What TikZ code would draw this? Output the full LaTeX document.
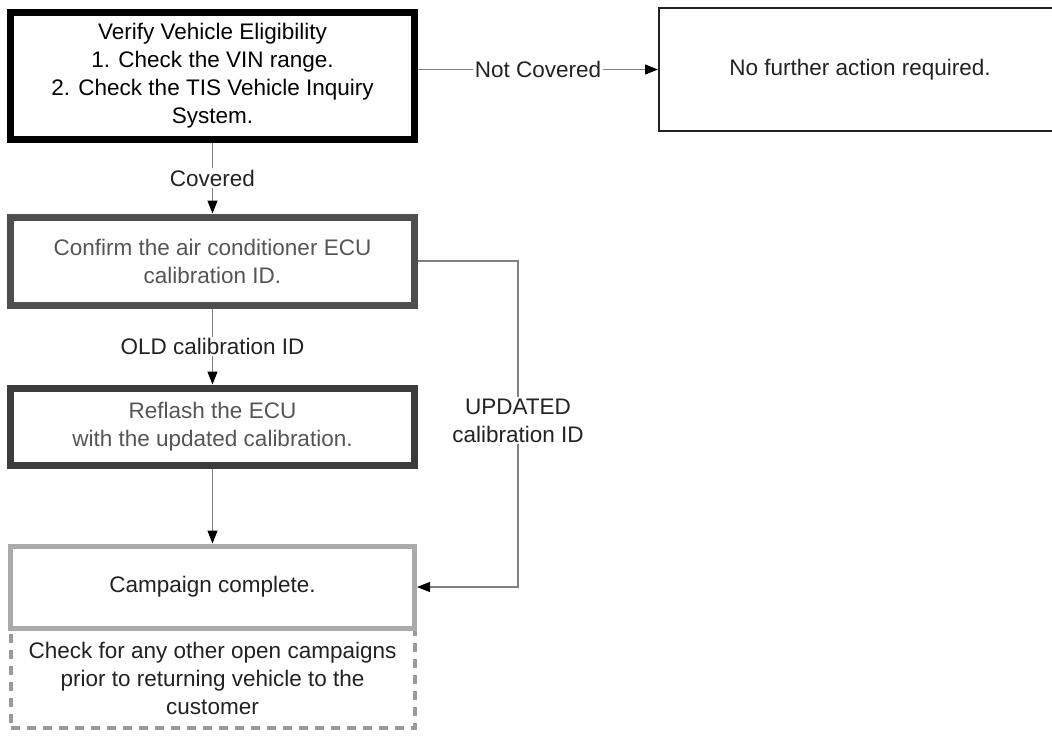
\documentclass[tikz,border=0pt]{standalone}
\usepackage{fontspec}
\setmainfont{Liberation Sans}
\usetikzlibrary{arrows.meta}
\definecolor{boxtwo}{HTML}{4E4E4E}
\definecolor{boxthree}{HTML}{3C3C3C}
\definecolor{boxfour}{HTML}{AAAAAA}
\definecolor{dashgray}{HTML}{9A9A9A}
\definecolor{linegray}{HTML}{808080}
\definecolor{txtgray}{HTML}{555555}
\definecolor{txtdark}{HTML}{222222}
\tikzset{
  box/.style={rectangle, minimum width=404pt, align=center, inner sep=0pt,
    font=\fontsize{22.5}{28}\selectfont},
  conn/.style={draw=linegray, line width=1.1pt,
    -{Triangle[length=13pt,width=10pt,color=black]}},
  lab/.style={fill=white, inner sep=1.5pt, text=txtdark, align=center,
    font=\fontsize{22.5}{28}\selectfont}
}
\begin{document}
\begin{tikzpicture}[x=1pt,y=-1pt]
\useasboundingbox (0,0) rectangle (1052,737);
\clip (0,0) rectangle (1052,737);
\fill[white] (0,0) rectangle (1052,737);
% nodes
\node[box, draw=black, line width=7pt, minimum height=127pt, text=black] (verify) at (212.5,76)
  {Verify Vehicle Eligibility\\1. Check the VIN range.\\2. Check the TIS Vehicle Inquiry\\System.};
\node[box, draw=txtdark, line width=2pt, minimum width=402pt, minimum height=123pt, text=txtdark] (nofurther) at (860,69.5)
  {No further action required.};
\node[box, draw=boxtwo, line width=7pt, minimum height=88pt, text=txtgray] (confirm) at (212.5,261)
  {Confirm the air conditioner ECU\\calibration ID.};
\node[box, draw=boxthree, line width=7pt, minimum height=77pt, text=txtgray] (reflash) at (212.5,426.5)
  {Reflash the ECU\\with the updated calibration.};
\node[box, draw=dashgray, line width=4pt, dash pattern=on 9pt off 7pt, minimum height=99pt, text=txtdark] (check) at (212.5,678)
  {Check for any other open campaigns\\prior to returning vehicle to the\\customer};
\node[box, draw=boxfour, line width=5pt, fill=white, minimum height=82pt, text=txtdark] (complete) at (212.5,587)
  {Campaign complete.};
\coordinate (updx) at (518,0);
% connectors
\draw[conn] (verify.east |- nofurther.west) -- node[lab]{Not Covered} (nofurther.west);
\draw[conn] (verify.south) -- node[lab]{Covered} (confirm.north);
\draw[conn] (confirm.south) -- node[lab]{OLD calibration ID} (reflash.north);
\draw[conn] (reflash.south) -- (complete.north);
\draw[conn] (confirm.east) -- (confirm.east -| updx)
  -- node[lab, pos=0.49]{UPDATED\\calibration ID} (complete.east -| updx) -- (complete.east);
\end{tikzpicture}
\end{document}
